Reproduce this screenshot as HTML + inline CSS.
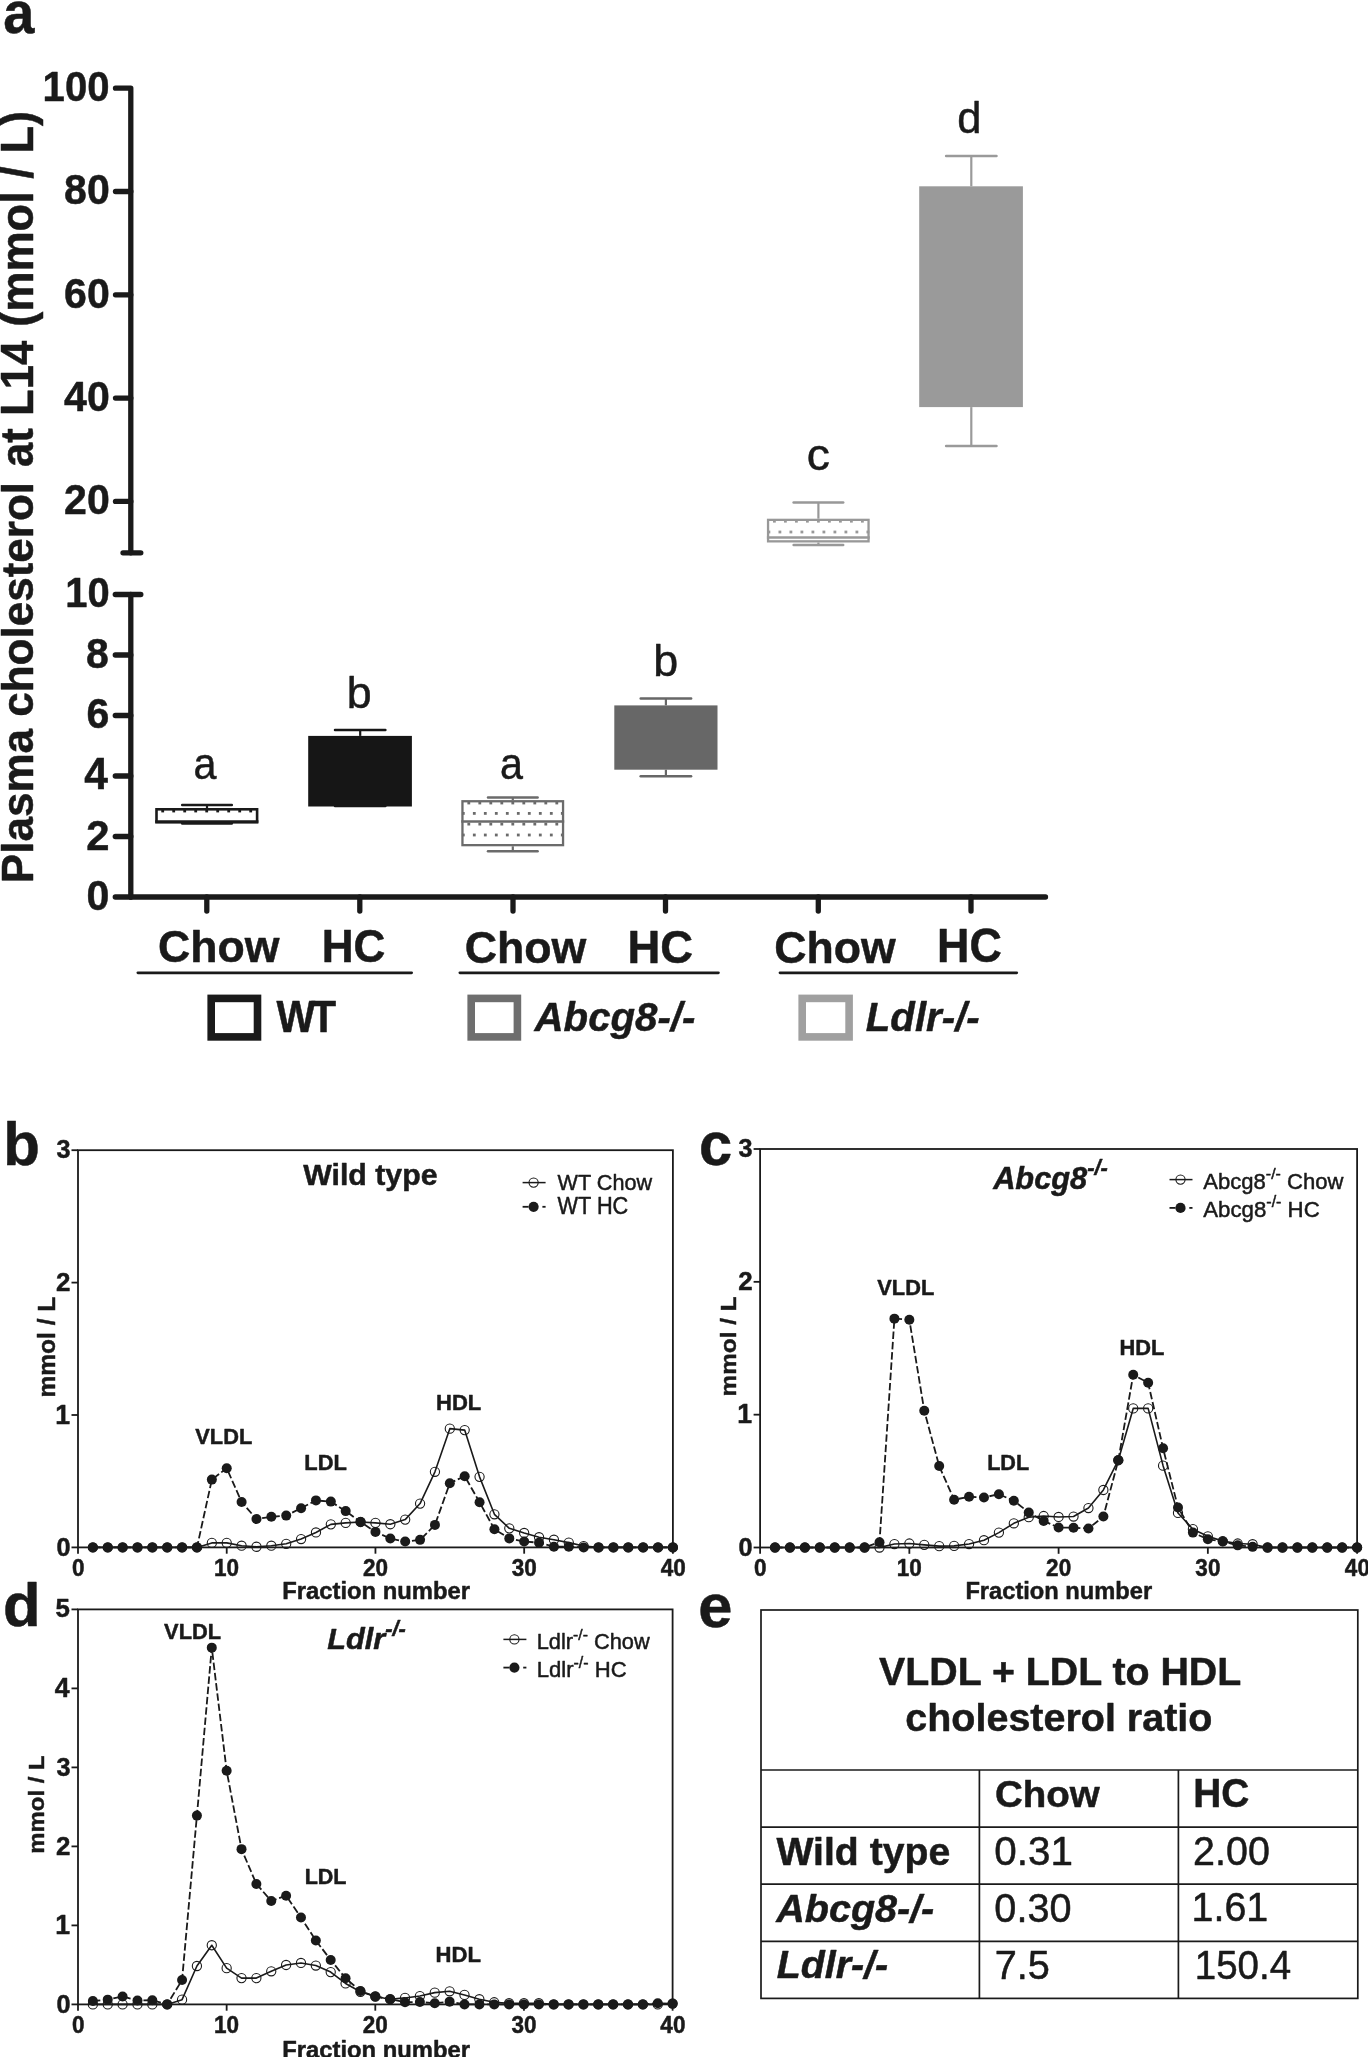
<!DOCTYPE html>
<html><head><meta charset="utf-8"><title>Figure</title><style>
html,body{margin:0;padding:0;background:#fff;}
body{width:1368px;height:2057px;overflow:hidden;}
svg{display:block;will-change:transform;}
text{font-family:"Liberation Sans",sans-serif;fill:#1a1a1a;stroke:#1a1a1a;stroke-width:0.5px;stroke-linejoin:round;}
.B{font-weight:bold;} .I{font-style:italic;} .R{font-weight:normal;}
</style></head><body>
<svg width="1368" height="2057" viewBox="0 0 1368 2057">
<rect width="1368" height="2057" fill="#fff"/>
<g stroke="#1a1a1a" stroke-width="5.3" stroke-linecap="round" stroke-linejoin="round" fill="none">
<path d="M115.5,88.2 H130.8 V552.8"/>
<line x1="115.5" y1="191.5" x2="130.8" y2="191.5"/>
<line x1="115.5" y1="294.8" x2="130.8" y2="294.8"/>
<line x1="115.5" y1="398.1" x2="130.8" y2="398.1"/>
<line x1="115.5" y1="501.4" x2="130.8" y2="501.4"/>
<line x1="123" y1="552.8" x2="140.8" y2="552.8"/>
<line x1="130.8" y1="594.5" x2="130.8" y2="897"/>
<line x1="115.3" y1="594.5" x2="140.8" y2="594.5"/>
<line x1="115.3" y1="655" x2="130.8" y2="655"/>
<line x1="115.3" y1="715.5" x2="130.8" y2="715.5"/>
<line x1="115.3" y1="776" x2="130.8" y2="776"/>
<line x1="115.3" y1="836.5" x2="130.8" y2="836.5"/>
<line x1="115.3" y1="897" x2="130.8" y2="897"/>
<line x1="130.8" y1="897" x2="1045.5" y2="897"/>
<line x1="206.8" y1="897" x2="206.8" y2="911"/>
<line x1="359.8" y1="897" x2="359.8" y2="911"/>
<line x1="513" y1="897" x2="513" y2="911"/>
<line x1="665.5" y1="897" x2="665.5" y2="911"/>
<line x1="818.3" y1="897" x2="818.3" y2="911"/>
<line x1="971" y1="897" x2="971" y2="911"/>
</g>
<line x1="182.2" y1="823.4" x2="231.8" y2="823.4" stroke="#1a1a1a" stroke-width="2.5" stroke-linecap="round"/>
<line x1="207" y1="804.9" x2="207" y2="808" stroke="#1a1a1a" stroke-width="2.2"/>
<line x1="207" y1="823.6" x2="207" y2="823.4" stroke="#1a1a1a" stroke-width="2.2"/>
<line x1="182.2" y1="804.9" x2="231.8" y2="804.9" stroke="#1a1a1a" stroke-width="2.5" stroke-linecap="round"/>
<rect x="161.3" y="809.6" width="2.8" height="2.8" fill="#1a1a1a"/>
<rect x="172.3" y="809.6" width="2.8" height="2.8" fill="#1a1a1a"/>
<rect x="183.3" y="809.6" width="2.8" height="2.8" fill="#1a1a1a"/>
<rect x="194.3" y="809.6" width="2.8" height="2.8" fill="#1a1a1a"/>
<rect x="205.3" y="809.6" width="2.8" height="2.8" fill="#1a1a1a"/>
<rect x="216.3" y="809.6" width="2.8" height="2.8" fill="#1a1a1a"/>
<rect x="227.3" y="809.6" width="2.8" height="2.8" fill="#1a1a1a"/>
<rect x="238.3" y="809.6" width="2.8" height="2.8" fill="#1a1a1a"/>
<rect x="249.3" y="809.6" width="2.8" height="2.8" fill="#1a1a1a"/>
<rect x="156.5" y="809.3" width="100.6" height="13" fill="none" stroke="#1a1a1a" stroke-width="2.6"/>
<line x1="155.2" y1="821.6" x2="258.4" y2="821.6" stroke="#1a1a1a" stroke-width="2.5" stroke-linecap="butt"/>
<line x1="360.2" y1="730" x2="360.2" y2="735.9" stroke="#161616" stroke-width="2.2"/>
<line x1="360.2" y1="806.5" x2="360.2" y2="806" stroke="#161616" stroke-width="2.2"/>
<line x1="335" y1="730" x2="385.4" y2="730" stroke="#161616" stroke-width="2.5" stroke-linecap="round"/>
<line x1="335" y1="806" x2="385.4" y2="806" stroke="#161616" stroke-width="2.5" stroke-linecap="round"/>
<rect x="308.2" y="735.9" width="103.7" height="70.6" fill="#161616"/>
<line x1="488" y1="851.2" x2="537.6" y2="851.2" stroke="#6b6b6b" stroke-width="2.5" stroke-linecap="round"/>
<line x1="512.8" y1="797.4" x2="512.8" y2="800.1" stroke="#6b6b6b" stroke-width="2.2"/>
<line x1="512.8" y1="846.3" x2="512.8" y2="851.2" stroke="#6b6b6b" stroke-width="2.2"/>
<line x1="488" y1="797.4" x2="537.6" y2="797.4" stroke="#6b6b6b" stroke-width="2.5" stroke-linecap="round"/>
<rect x="467.4" y="801.6" width="2.8" height="2.8" fill="#6b6b6b"/>
<rect x="478.4" y="801.6" width="2.8" height="2.8" fill="#6b6b6b"/>
<rect x="489.4" y="801.6" width="2.8" height="2.8" fill="#6b6b6b"/>
<rect x="500.4" y="801.6" width="2.8" height="2.8" fill="#6b6b6b"/>
<rect x="511.4" y="801.6" width="2.8" height="2.8" fill="#6b6b6b"/>
<rect x="522.4" y="801.6" width="2.8" height="2.8" fill="#6b6b6b"/>
<rect x="533.4" y="801.6" width="2.8" height="2.8" fill="#6b6b6b"/>
<rect x="544.4" y="801.6" width="2.8" height="2.8" fill="#6b6b6b"/>
<rect x="555.4" y="801.6" width="2.8" height="2.8" fill="#6b6b6b"/>
<rect x="461.9" y="812" width="2.8" height="2.8" fill="#6b6b6b"/>
<rect x="472.9" y="812" width="2.8" height="2.8" fill="#6b6b6b"/>
<rect x="483.9" y="812" width="2.8" height="2.8" fill="#6b6b6b"/>
<rect x="494.9" y="812" width="2.8" height="2.8" fill="#6b6b6b"/>
<rect x="505.9" y="812" width="2.8" height="2.8" fill="#6b6b6b"/>
<rect x="516.9" y="812" width="2.8" height="2.8" fill="#6b6b6b"/>
<rect x="527.9" y="812" width="2.8" height="2.8" fill="#6b6b6b"/>
<rect x="538.9" y="812" width="2.8" height="2.8" fill="#6b6b6b"/>
<rect x="549.9" y="812" width="2.8" height="2.8" fill="#6b6b6b"/>
<rect x="560.9" y="812" width="2.8" height="2.8" fill="#6b6b6b"/>
<rect x="467.4" y="822.7" width="2.8" height="2.8" fill="#6b6b6b"/>
<rect x="478.4" y="822.7" width="2.8" height="2.8" fill="#6b6b6b"/>
<rect x="489.4" y="822.7" width="2.8" height="2.8" fill="#6b6b6b"/>
<rect x="500.4" y="822.7" width="2.8" height="2.8" fill="#6b6b6b"/>
<rect x="511.4" y="822.7" width="2.8" height="2.8" fill="#6b6b6b"/>
<rect x="522.4" y="822.7" width="2.8" height="2.8" fill="#6b6b6b"/>
<rect x="533.4" y="822.7" width="2.8" height="2.8" fill="#6b6b6b"/>
<rect x="544.4" y="822.7" width="2.8" height="2.8" fill="#6b6b6b"/>
<rect x="555.4" y="822.7" width="2.8" height="2.8" fill="#6b6b6b"/>
<rect x="461.9" y="833.6" width="2.8" height="2.8" fill="#6b6b6b"/>
<rect x="472.9" y="833.6" width="2.8" height="2.8" fill="#6b6b6b"/>
<rect x="483.9" y="833.6" width="2.8" height="2.8" fill="#6b6b6b"/>
<rect x="494.9" y="833.6" width="2.8" height="2.8" fill="#6b6b6b"/>
<rect x="505.9" y="833.6" width="2.8" height="2.8" fill="#6b6b6b"/>
<rect x="516.9" y="833.6" width="2.8" height="2.8" fill="#6b6b6b"/>
<rect x="527.9" y="833.6" width="2.8" height="2.8" fill="#6b6b6b"/>
<rect x="538.9" y="833.6" width="2.8" height="2.8" fill="#6b6b6b"/>
<rect x="549.9" y="833.6" width="2.8" height="2.8" fill="#6b6b6b"/>
<rect x="560.9" y="833.6" width="2.8" height="2.8" fill="#6b6b6b"/>
<rect x="462.45" y="801.25" width="100.6" height="43.9" fill="none" stroke="#6b6b6b" stroke-width="2.3"/>
<line x1="461.3" y1="821.5" x2="564.2" y2="821.5" stroke="#6b6b6b" stroke-width="2.5" stroke-linecap="butt"/>
<line x1="665.9" y1="698.6" x2="665.9" y2="705.4" stroke="#676767" stroke-width="2.2"/>
<line x1="665.9" y1="769.7" x2="665.9" y2="776.3" stroke="#676767" stroke-width="2.2"/>
<line x1="640.7" y1="698.6" x2="691.1" y2="698.6" stroke="#676767" stroke-width="2.5" stroke-linecap="round"/>
<line x1="640.7" y1="776.3" x2="691.1" y2="776.3" stroke="#676767" stroke-width="2.5" stroke-linecap="round"/>
<rect x="614.3" y="705.4" width="103.2" height="64.3" fill="#676767"/>
<line x1="793.6" y1="545" x2="843.2" y2="545" stroke="#989898" stroke-width="2.5" stroke-linecap="round"/>
<line x1="818.4" y1="502.4" x2="818.4" y2="518.7" stroke="#989898" stroke-width="2.2"/>
<line x1="818.4" y1="542.5" x2="818.4" y2="545" stroke="#989898" stroke-width="2.2"/>
<line x1="793.6" y1="502.4" x2="843.2" y2="502.4" stroke="#989898" stroke-width="2.5" stroke-linecap="round"/>
<rect x="773" y="519.8" width="2.8" height="2.8" fill="#989898"/>
<rect x="784" y="519.8" width="2.8" height="2.8" fill="#989898"/>
<rect x="795" y="519.8" width="2.8" height="2.8" fill="#989898"/>
<rect x="806" y="519.8" width="2.8" height="2.8" fill="#989898"/>
<rect x="817" y="519.8" width="2.8" height="2.8" fill="#989898"/>
<rect x="828" y="519.8" width="2.8" height="2.8" fill="#989898"/>
<rect x="839" y="519.8" width="2.8" height="2.8" fill="#989898"/>
<rect x="850" y="519.8" width="2.8" height="2.8" fill="#989898"/>
<rect x="861" y="519.8" width="2.8" height="2.8" fill="#989898"/>
<rect x="767.5" y="530.6" width="2.8" height="2.8" fill="#989898"/>
<rect x="778.5" y="530.6" width="2.8" height="2.8" fill="#989898"/>
<rect x="789.5" y="530.6" width="2.8" height="2.8" fill="#989898"/>
<rect x="800.5" y="530.6" width="2.8" height="2.8" fill="#989898"/>
<rect x="811.5" y="530.6" width="2.8" height="2.8" fill="#989898"/>
<rect x="822.5" y="530.6" width="2.8" height="2.8" fill="#989898"/>
<rect x="833.5" y="530.6" width="2.8" height="2.8" fill="#989898"/>
<rect x="844.5" y="530.6" width="2.8" height="2.8" fill="#989898"/>
<rect x="855.5" y="530.6" width="2.8" height="2.8" fill="#989898"/>
<rect x="866.5" y="530.6" width="2.8" height="2.8" fill="#989898"/>
<rect x="768.05" y="519.85" width="100.5" height="21.5" fill="none" stroke="#989898" stroke-width="2.3"/>
<line x1="766.9" y1="537.4" x2="869.7" y2="537.4" stroke="#989898" stroke-width="2.5" stroke-linecap="butt"/>
<line x1="971.3" y1="156.1" x2="971.3" y2="186.3" stroke="#9a9a9a" stroke-width="2.2"/>
<line x1="971.3" y1="407.1" x2="971.3" y2="445.9" stroke="#9a9a9a" stroke-width="2.2"/>
<line x1="946.1" y1="156.1" x2="996.5" y2="156.1" stroke="#9a9a9a" stroke-width="2.5" stroke-linecap="round"/>
<line x1="946.1" y1="445.9" x2="996.5" y2="445.9" stroke="#9a9a9a" stroke-width="2.5" stroke-linecap="round"/>
<rect x="919.2" y="186.3" width="103.7" height="220.8" fill="#9a9a9a"/>
<line x1="137.9" y1="972.8" x2="411.6" y2="972.8" stroke="#1a1a1a" stroke-width="2.8" stroke-linecap="round"/>
<line x1="459.9" y1="972.8" x2="718.4" y2="972.8" stroke="#1a1a1a" stroke-width="2.8" stroke-linecap="round"/>
<line x1="780" y1="972.8" x2="1016.7" y2="972.8" stroke="#1a1a1a" stroke-width="2.8" stroke-linecap="round"/>
<rect x="211.2" y="998.4" width="46.3" height="38.5" fill="none" stroke="#1a1a1a" stroke-width="7.6"/>
<rect x="471.2" y="998.4" width="46.2" height="38.5" fill="none" stroke="#6e6e6e" stroke-width="7.6"/>
<rect x="802.2" y="998.4" width="46.9" height="38.5" fill="none" stroke="#a0a0a0" stroke-width="7.6"/>
<rect x="78" y="1150.2" width="594.9" height="397.2" fill="none" stroke="#1a1a1a" stroke-width="1.8"/>
<line x1="71.5" y1="1547.4" x2="78" y2="1547.4" stroke="#1a1a1a" stroke-width="1.8"/>
<line x1="71.5" y1="1415" x2="78" y2="1415" stroke="#1a1a1a" stroke-width="1.8"/>
<line x1="71.5" y1="1282.6" x2="78" y2="1282.6" stroke="#1a1a1a" stroke-width="1.8"/>
<line x1="71.5" y1="1150.2" x2="78" y2="1150.2" stroke="#1a1a1a" stroke-width="1.8"/>
<line x1="78" y1="1547.4" x2="78" y2="1553.7" stroke="#1a1a1a" stroke-width="1.8"/>
<line x1="226.72" y1="1547.4" x2="226.72" y2="1553.7" stroke="#1a1a1a" stroke-width="1.8"/>
<line x1="375.45" y1="1547.4" x2="375.45" y2="1553.7" stroke="#1a1a1a" stroke-width="1.8"/>
<line x1="524.17" y1="1547.4" x2="524.17" y2="1553.7" stroke="#1a1a1a" stroke-width="1.8"/>
<line x1="672.9" y1="1547.4" x2="672.9" y2="1553.7" stroke="#1a1a1a" stroke-width="1.8"/>
<path d="M92.87,1547.4 L107.75,1547.4 L122.62,1547.4 L137.49,1547.4 L152.36,1547.4 L167.23,1547.4 L182.11,1547.4 L196.98,1547.4 L211.85,1542.9 L226.72,1542.9 L241.6,1545.68 L256.47,1546.74 L271.34,1545.68 L286.21,1543.83 L301.09,1539.06 L315.96,1532.44 L330.83,1524.36 L345.7,1522.91 L360.58,1521.98 L375.45,1522.91 L390.32,1524.23 L405.19,1519.6 L420.07,1503.58 L434.94,1471.8 L449.81,1428.64 L464.68,1430.09 L479.56,1476.83 L494.43,1514.3 L509.3,1528.33 L524.17,1532.97 L539.05,1537.21 L553.92,1539.72 L568.79,1542.63 L583.66,1546.08 L598.54,1547.4 L613.41,1547.4 L628.28,1547.4 L643.15,1547.4 L658.03,1547.4 L672.9,1547.4" fill="none" stroke="#1a1a1a" stroke-width="1.6" stroke-linejoin="round"/>
<circle cx="92.87" cy="1547.4" r="4.6" fill="none" stroke="#1a1a1a" stroke-width="1.1"/>
<circle cx="107.75" cy="1547.4" r="4.6" fill="none" stroke="#1a1a1a" stroke-width="1.1"/>
<circle cx="122.62" cy="1547.4" r="4.6" fill="none" stroke="#1a1a1a" stroke-width="1.1"/>
<circle cx="137.49" cy="1547.4" r="4.6" fill="none" stroke="#1a1a1a" stroke-width="1.1"/>
<circle cx="152.36" cy="1547.4" r="4.6" fill="none" stroke="#1a1a1a" stroke-width="1.1"/>
<circle cx="167.23" cy="1547.4" r="4.6" fill="none" stroke="#1a1a1a" stroke-width="1.1"/>
<circle cx="182.11" cy="1547.4" r="4.6" fill="none" stroke="#1a1a1a" stroke-width="1.1"/>
<circle cx="196.98" cy="1547.4" r="4.6" fill="none" stroke="#1a1a1a" stroke-width="1.1"/>
<circle cx="211.85" cy="1542.9" r="4.6" fill="none" stroke="#1a1a1a" stroke-width="1.1"/>
<circle cx="226.72" cy="1542.9" r="4.6" fill="none" stroke="#1a1a1a" stroke-width="1.1"/>
<circle cx="241.6" cy="1545.68" r="4.6" fill="none" stroke="#1a1a1a" stroke-width="1.1"/>
<circle cx="256.47" cy="1546.74" r="4.6" fill="none" stroke="#1a1a1a" stroke-width="1.1"/>
<circle cx="271.34" cy="1545.68" r="4.6" fill="none" stroke="#1a1a1a" stroke-width="1.1"/>
<circle cx="286.21" cy="1543.83" r="4.6" fill="none" stroke="#1a1a1a" stroke-width="1.1"/>
<circle cx="301.09" cy="1539.06" r="4.6" fill="none" stroke="#1a1a1a" stroke-width="1.1"/>
<circle cx="315.96" cy="1532.44" r="4.6" fill="none" stroke="#1a1a1a" stroke-width="1.1"/>
<circle cx="330.83" cy="1524.36" r="4.6" fill="none" stroke="#1a1a1a" stroke-width="1.1"/>
<circle cx="345.7" cy="1522.91" r="4.6" fill="none" stroke="#1a1a1a" stroke-width="1.1"/>
<circle cx="360.58" cy="1521.98" r="4.6" fill="none" stroke="#1a1a1a" stroke-width="1.1"/>
<circle cx="375.45" cy="1522.91" r="4.6" fill="none" stroke="#1a1a1a" stroke-width="1.1"/>
<circle cx="390.32" cy="1524.23" r="4.6" fill="none" stroke="#1a1a1a" stroke-width="1.1"/>
<circle cx="405.19" cy="1519.6" r="4.6" fill="none" stroke="#1a1a1a" stroke-width="1.1"/>
<circle cx="420.07" cy="1503.58" r="4.6" fill="none" stroke="#1a1a1a" stroke-width="1.1"/>
<circle cx="434.94" cy="1471.8" r="4.6" fill="none" stroke="#1a1a1a" stroke-width="1.1"/>
<circle cx="449.81" cy="1428.64" r="4.6" fill="none" stroke="#1a1a1a" stroke-width="1.1"/>
<circle cx="464.68" cy="1430.09" r="4.6" fill="none" stroke="#1a1a1a" stroke-width="1.1"/>
<circle cx="479.56" cy="1476.83" r="4.6" fill="none" stroke="#1a1a1a" stroke-width="1.1"/>
<circle cx="494.43" cy="1514.3" r="4.6" fill="none" stroke="#1a1a1a" stroke-width="1.1"/>
<circle cx="509.3" cy="1528.33" r="4.6" fill="none" stroke="#1a1a1a" stroke-width="1.1"/>
<circle cx="524.17" cy="1532.97" r="4.6" fill="none" stroke="#1a1a1a" stroke-width="1.1"/>
<circle cx="539.05" cy="1537.21" r="4.6" fill="none" stroke="#1a1a1a" stroke-width="1.1"/>
<circle cx="553.92" cy="1539.72" r="4.6" fill="none" stroke="#1a1a1a" stroke-width="1.1"/>
<circle cx="568.79" cy="1542.63" r="4.6" fill="none" stroke="#1a1a1a" stroke-width="1.1"/>
<circle cx="583.66" cy="1546.08" r="4.6" fill="none" stroke="#1a1a1a" stroke-width="1.1"/>
<circle cx="598.54" cy="1547.4" r="4.6" fill="none" stroke="#1a1a1a" stroke-width="1.1"/>
<circle cx="613.41" cy="1547.4" r="4.6" fill="none" stroke="#1a1a1a" stroke-width="1.1"/>
<circle cx="628.28" cy="1547.4" r="4.6" fill="none" stroke="#1a1a1a" stroke-width="1.1"/>
<circle cx="643.15" cy="1547.4" r="4.6" fill="none" stroke="#1a1a1a" stroke-width="1.1"/>
<circle cx="658.03" cy="1547.4" r="4.6" fill="none" stroke="#1a1a1a" stroke-width="1.1"/>
<circle cx="672.9" cy="1547.4" r="4.6" fill="none" stroke="#1a1a1a" stroke-width="1.1"/>
<path d="M92.87,1547.4 L107.75,1547.4 L122.62,1547.4 L137.49,1547.4 L152.36,1547.4 L167.23,1547.4 L182.11,1547.4 L196.98,1547.4 L211.85,1479.61 L226.72,1468.22 L241.6,1501.99 L256.47,1519.07 L271.34,1516.82 L286.21,1515.62 L301.09,1508.21 L315.96,1500.4 L330.83,1501.59 L345.7,1511.12 L360.58,1521.98 L375.45,1531.91 L390.32,1538.53 L405.19,1541.57 L420.07,1539.85 L434.94,1524.89 L449.81,1483.19 L464.68,1476.17 L479.56,1502.25 L494.43,1529.26 L509.3,1538.4 L524.17,1541.57 L539.05,1542.63 L553.92,1546.74 L568.79,1546.74 L583.66,1547.4 L598.54,1547.4 L613.41,1547.4 L628.28,1547.4 L643.15,1547.4 L658.03,1547.4 L672.9,1547.4" fill="none" stroke="#1a1a1a" stroke-width="1.8" stroke-dasharray="7.5 2.8"/>
<circle cx="92.87" cy="1547.4" r="5" fill="#1a1a1a"/>
<circle cx="107.75" cy="1547.4" r="5" fill="#1a1a1a"/>
<circle cx="122.62" cy="1547.4" r="5" fill="#1a1a1a"/>
<circle cx="137.49" cy="1547.4" r="5" fill="#1a1a1a"/>
<circle cx="152.36" cy="1547.4" r="5" fill="#1a1a1a"/>
<circle cx="167.23" cy="1547.4" r="5" fill="#1a1a1a"/>
<circle cx="182.11" cy="1547.4" r="5" fill="#1a1a1a"/>
<circle cx="196.98" cy="1547.4" r="5" fill="#1a1a1a"/>
<circle cx="211.85" cy="1479.61" r="5" fill="#1a1a1a"/>
<circle cx="226.72" cy="1468.22" r="5" fill="#1a1a1a"/>
<circle cx="241.6" cy="1501.99" r="5" fill="#1a1a1a"/>
<circle cx="256.47" cy="1519.07" r="5" fill="#1a1a1a"/>
<circle cx="271.34" cy="1516.82" r="5" fill="#1a1a1a"/>
<circle cx="286.21" cy="1515.62" r="5" fill="#1a1a1a"/>
<circle cx="301.09" cy="1508.21" r="5" fill="#1a1a1a"/>
<circle cx="315.96" cy="1500.4" r="5" fill="#1a1a1a"/>
<circle cx="330.83" cy="1501.59" r="5" fill="#1a1a1a"/>
<circle cx="345.7" cy="1511.12" r="5" fill="#1a1a1a"/>
<circle cx="360.58" cy="1521.98" r="5" fill="#1a1a1a"/>
<circle cx="375.45" cy="1531.91" r="5" fill="#1a1a1a"/>
<circle cx="390.32" cy="1538.53" r="5" fill="#1a1a1a"/>
<circle cx="405.19" cy="1541.57" r="5" fill="#1a1a1a"/>
<circle cx="420.07" cy="1539.85" r="5" fill="#1a1a1a"/>
<circle cx="434.94" cy="1524.89" r="5" fill="#1a1a1a"/>
<circle cx="449.81" cy="1483.19" r="5" fill="#1a1a1a"/>
<circle cx="464.68" cy="1476.17" r="5" fill="#1a1a1a"/>
<circle cx="479.56" cy="1502.25" r="5" fill="#1a1a1a"/>
<circle cx="494.43" cy="1529.26" r="5" fill="#1a1a1a"/>
<circle cx="509.3" cy="1538.4" r="5" fill="#1a1a1a"/>
<circle cx="524.17" cy="1541.57" r="5" fill="#1a1a1a"/>
<circle cx="539.05" cy="1542.63" r="5" fill="#1a1a1a"/>
<circle cx="553.92" cy="1546.74" r="5" fill="#1a1a1a"/>
<circle cx="568.79" cy="1546.74" r="5" fill="#1a1a1a"/>
<circle cx="583.66" cy="1547.4" r="5" fill="#1a1a1a"/>
<circle cx="598.54" cy="1547.4" r="5" fill="#1a1a1a"/>
<circle cx="613.41" cy="1547.4" r="5" fill="#1a1a1a"/>
<circle cx="628.28" cy="1547.4" r="5" fill="#1a1a1a"/>
<circle cx="643.15" cy="1547.4" r="5" fill="#1a1a1a"/>
<circle cx="658.03" cy="1547.4" r="5" fill="#1a1a1a"/>
<circle cx="672.9" cy="1547.4" r="5" fill="#1a1a1a"/>
<rect x="760.1" y="1149" width="597" height="398.5" fill="none" stroke="#1a1a1a" stroke-width="1.8"/>
<line x1="753.6" y1="1547.5" x2="760.1" y2="1547.5" stroke="#1a1a1a" stroke-width="1.8"/>
<line x1="753.6" y1="1414.67" x2="760.1" y2="1414.67" stroke="#1a1a1a" stroke-width="1.8"/>
<line x1="753.6" y1="1281.83" x2="760.1" y2="1281.83" stroke="#1a1a1a" stroke-width="1.8"/>
<line x1="753.6" y1="1149" x2="760.1" y2="1149" stroke="#1a1a1a" stroke-width="1.8"/>
<line x1="760.1" y1="1547.5" x2="760.1" y2="1553.8" stroke="#1a1a1a" stroke-width="1.8"/>
<line x1="909.35" y1="1547.5" x2="909.35" y2="1553.8" stroke="#1a1a1a" stroke-width="1.8"/>
<line x1="1058.6" y1="1547.5" x2="1058.6" y2="1553.8" stroke="#1a1a1a" stroke-width="1.8"/>
<line x1="1207.85" y1="1547.5" x2="1207.85" y2="1553.8" stroke="#1a1a1a" stroke-width="1.8"/>
<line x1="1357.1" y1="1547.5" x2="1357.1" y2="1553.8" stroke="#1a1a1a" stroke-width="1.8"/>
<path d="M775.02,1547.5 L789.95,1547.5 L804.88,1547.5 L819.8,1547.5 L834.73,1547.5 L849.65,1547.5 L864.58,1547.5 L879.5,1547.5 L894.42,1544.05 L909.35,1543.52 L924.27,1544.84 L939.2,1546.17 L954.12,1545.91 L969.05,1544.05 L983.97,1540.19 L998.9,1532.62 L1013.83,1523.32 L1028.75,1517.21 L1043.67,1516.02 L1058.6,1516.95 L1073.53,1516.55 L1088.45,1508.05 L1103.38,1489.98 L1118.3,1460.23 L1133.22,1408.42 L1148.15,1408.42 L1163.07,1465.67 L1178,1512.96 L1192.92,1529.17 L1207.85,1536.34 L1222.77,1541.12 L1237.7,1543.52 L1252.62,1544.18 L1267.55,1547.5 L1282.47,1547.5 L1297.4,1547.5 L1312.32,1547.5 L1327.25,1547.5 L1342.17,1547.5 L1357.1,1547.5" fill="none" stroke="#1a1a1a" stroke-width="1.6" stroke-linejoin="round"/>
<circle cx="775.02" cy="1547.5" r="4.6" fill="none" stroke="#1a1a1a" stroke-width="1.1"/>
<circle cx="789.95" cy="1547.5" r="4.6" fill="none" stroke="#1a1a1a" stroke-width="1.1"/>
<circle cx="804.88" cy="1547.5" r="4.6" fill="none" stroke="#1a1a1a" stroke-width="1.1"/>
<circle cx="819.8" cy="1547.5" r="4.6" fill="none" stroke="#1a1a1a" stroke-width="1.1"/>
<circle cx="834.73" cy="1547.5" r="4.6" fill="none" stroke="#1a1a1a" stroke-width="1.1"/>
<circle cx="849.65" cy="1547.5" r="4.6" fill="none" stroke="#1a1a1a" stroke-width="1.1"/>
<circle cx="864.58" cy="1547.5" r="4.6" fill="none" stroke="#1a1a1a" stroke-width="1.1"/>
<circle cx="879.5" cy="1547.5" r="4.6" fill="none" stroke="#1a1a1a" stroke-width="1.1"/>
<circle cx="894.42" cy="1544.05" r="4.6" fill="none" stroke="#1a1a1a" stroke-width="1.1"/>
<circle cx="909.35" cy="1543.52" r="4.6" fill="none" stroke="#1a1a1a" stroke-width="1.1"/>
<circle cx="924.27" cy="1544.84" r="4.6" fill="none" stroke="#1a1a1a" stroke-width="1.1"/>
<circle cx="939.2" cy="1546.17" r="4.6" fill="none" stroke="#1a1a1a" stroke-width="1.1"/>
<circle cx="954.12" cy="1545.91" r="4.6" fill="none" stroke="#1a1a1a" stroke-width="1.1"/>
<circle cx="969.05" cy="1544.05" r="4.6" fill="none" stroke="#1a1a1a" stroke-width="1.1"/>
<circle cx="983.97" cy="1540.19" r="4.6" fill="none" stroke="#1a1a1a" stroke-width="1.1"/>
<circle cx="998.9" cy="1532.62" r="4.6" fill="none" stroke="#1a1a1a" stroke-width="1.1"/>
<circle cx="1013.83" cy="1523.32" r="4.6" fill="none" stroke="#1a1a1a" stroke-width="1.1"/>
<circle cx="1028.75" cy="1517.21" r="4.6" fill="none" stroke="#1a1a1a" stroke-width="1.1"/>
<circle cx="1043.67" cy="1516.02" r="4.6" fill="none" stroke="#1a1a1a" stroke-width="1.1"/>
<circle cx="1058.6" cy="1516.95" r="4.6" fill="none" stroke="#1a1a1a" stroke-width="1.1"/>
<circle cx="1073.53" cy="1516.55" r="4.6" fill="none" stroke="#1a1a1a" stroke-width="1.1"/>
<circle cx="1088.45" cy="1508.05" r="4.6" fill="none" stroke="#1a1a1a" stroke-width="1.1"/>
<circle cx="1103.38" cy="1489.98" r="4.6" fill="none" stroke="#1a1a1a" stroke-width="1.1"/>
<circle cx="1118.3" cy="1460.23" r="4.6" fill="none" stroke="#1a1a1a" stroke-width="1.1"/>
<circle cx="1133.22" cy="1408.42" r="4.6" fill="none" stroke="#1a1a1a" stroke-width="1.1"/>
<circle cx="1148.15" cy="1408.42" r="4.6" fill="none" stroke="#1a1a1a" stroke-width="1.1"/>
<circle cx="1163.07" cy="1465.67" r="4.6" fill="none" stroke="#1a1a1a" stroke-width="1.1"/>
<circle cx="1178" cy="1512.96" r="4.6" fill="none" stroke="#1a1a1a" stroke-width="1.1"/>
<circle cx="1192.92" cy="1529.17" r="4.6" fill="none" stroke="#1a1a1a" stroke-width="1.1"/>
<circle cx="1207.85" cy="1536.34" r="4.6" fill="none" stroke="#1a1a1a" stroke-width="1.1"/>
<circle cx="1222.77" cy="1541.12" r="4.6" fill="none" stroke="#1a1a1a" stroke-width="1.1"/>
<circle cx="1237.7" cy="1543.52" r="4.6" fill="none" stroke="#1a1a1a" stroke-width="1.1"/>
<circle cx="1252.62" cy="1544.18" r="4.6" fill="none" stroke="#1a1a1a" stroke-width="1.1"/>
<circle cx="1267.55" cy="1547.5" r="4.6" fill="none" stroke="#1a1a1a" stroke-width="1.1"/>
<circle cx="1282.47" cy="1547.5" r="4.6" fill="none" stroke="#1a1a1a" stroke-width="1.1"/>
<circle cx="1297.4" cy="1547.5" r="4.6" fill="none" stroke="#1a1a1a" stroke-width="1.1"/>
<circle cx="1312.32" cy="1547.5" r="4.6" fill="none" stroke="#1a1a1a" stroke-width="1.1"/>
<circle cx="1327.25" cy="1547.5" r="4.6" fill="none" stroke="#1a1a1a" stroke-width="1.1"/>
<circle cx="1342.17" cy="1547.5" r="4.6" fill="none" stroke="#1a1a1a" stroke-width="1.1"/>
<circle cx="1357.1" cy="1547.5" r="4.6" fill="none" stroke="#1a1a1a" stroke-width="1.1"/>
<path d="M775.02,1547.5 L789.95,1547.5 L804.88,1547.5 L819.8,1547.5 L834.73,1547.5 L849.65,1547.5 L864.58,1547.5 L879.5,1542.19 L894.42,1318.63 L909.35,1319.69 L924.27,1410.68 L939.2,1466.07 L954.12,1499.68 L969.05,1496.76 L983.97,1497.42 L998.9,1494.23 L1013.83,1500.74 L1028.75,1512.43 L1043.67,1520.93 L1058.6,1527.58 L1073.53,1527.71 L1088.45,1528.5 L1103.38,1516.55 L1118.3,1460.23 L1133.22,1374.82 L1148.15,1382.79 L1163.07,1448.27 L1178,1507.52 L1192.92,1532.62 L1207.85,1539.26 L1222.77,1541.52 L1237.7,1545.37 L1252.62,1546.84 L1267.55,1547.5 L1282.47,1547.5 L1297.4,1547.5 L1312.32,1547.5 L1327.25,1547.5 L1342.17,1547.5 L1357.1,1547.5" fill="none" stroke="#1a1a1a" stroke-width="1.8" stroke-dasharray="7.5 2.8"/>
<circle cx="775.02" cy="1547.5" r="5" fill="#1a1a1a"/>
<circle cx="789.95" cy="1547.5" r="5" fill="#1a1a1a"/>
<circle cx="804.88" cy="1547.5" r="5" fill="#1a1a1a"/>
<circle cx="819.8" cy="1547.5" r="5" fill="#1a1a1a"/>
<circle cx="834.73" cy="1547.5" r="5" fill="#1a1a1a"/>
<circle cx="849.65" cy="1547.5" r="5" fill="#1a1a1a"/>
<circle cx="864.58" cy="1547.5" r="5" fill="#1a1a1a"/>
<circle cx="879.5" cy="1542.19" r="5" fill="#1a1a1a"/>
<circle cx="894.42" cy="1318.63" r="5" fill="#1a1a1a"/>
<circle cx="909.35" cy="1319.69" r="5" fill="#1a1a1a"/>
<circle cx="924.27" cy="1410.68" r="5" fill="#1a1a1a"/>
<circle cx="939.2" cy="1466.07" r="5" fill="#1a1a1a"/>
<circle cx="954.12" cy="1499.68" r="5" fill="#1a1a1a"/>
<circle cx="969.05" cy="1496.76" r="5" fill="#1a1a1a"/>
<circle cx="983.97" cy="1497.42" r="5" fill="#1a1a1a"/>
<circle cx="998.9" cy="1494.23" r="5" fill="#1a1a1a"/>
<circle cx="1013.83" cy="1500.74" r="5" fill="#1a1a1a"/>
<circle cx="1028.75" cy="1512.43" r="5" fill="#1a1a1a"/>
<circle cx="1043.67" cy="1520.93" r="5" fill="#1a1a1a"/>
<circle cx="1058.6" cy="1527.58" r="5" fill="#1a1a1a"/>
<circle cx="1073.53" cy="1527.71" r="5" fill="#1a1a1a"/>
<circle cx="1088.45" cy="1528.5" r="5" fill="#1a1a1a"/>
<circle cx="1103.38" cy="1516.55" r="5" fill="#1a1a1a"/>
<circle cx="1118.3" cy="1460.23" r="5" fill="#1a1a1a"/>
<circle cx="1133.22" cy="1374.82" r="5" fill="#1a1a1a"/>
<circle cx="1148.15" cy="1382.79" r="5" fill="#1a1a1a"/>
<circle cx="1163.07" cy="1448.27" r="5" fill="#1a1a1a"/>
<circle cx="1178" cy="1507.52" r="5" fill="#1a1a1a"/>
<circle cx="1192.92" cy="1532.62" r="5" fill="#1a1a1a"/>
<circle cx="1207.85" cy="1539.26" r="5" fill="#1a1a1a"/>
<circle cx="1222.77" cy="1541.52" r="5" fill="#1a1a1a"/>
<circle cx="1237.7" cy="1545.37" r="5" fill="#1a1a1a"/>
<circle cx="1252.62" cy="1546.84" r="5" fill="#1a1a1a"/>
<circle cx="1267.55" cy="1547.5" r="5" fill="#1a1a1a"/>
<circle cx="1282.47" cy="1547.5" r="5" fill="#1a1a1a"/>
<circle cx="1297.4" cy="1547.5" r="5" fill="#1a1a1a"/>
<circle cx="1312.32" cy="1547.5" r="5" fill="#1a1a1a"/>
<circle cx="1327.25" cy="1547.5" r="5" fill="#1a1a1a"/>
<circle cx="1342.17" cy="1547.5" r="5" fill="#1a1a1a"/>
<circle cx="1357.1" cy="1547.5" r="5" fill="#1a1a1a"/>
<rect x="78" y="1609.4" width="594.6" height="395" fill="none" stroke="#1a1a1a" stroke-width="1.8"/>
<line x1="71.5" y1="2004.4" x2="78" y2="2004.4" stroke="#1a1a1a" stroke-width="1.8"/>
<line x1="71.5" y1="1925.4" x2="78" y2="1925.4" stroke="#1a1a1a" stroke-width="1.8"/>
<line x1="71.5" y1="1846.4" x2="78" y2="1846.4" stroke="#1a1a1a" stroke-width="1.8"/>
<line x1="71.5" y1="1767.4" x2="78" y2="1767.4" stroke="#1a1a1a" stroke-width="1.8"/>
<line x1="71.5" y1="1688.4" x2="78" y2="1688.4" stroke="#1a1a1a" stroke-width="1.8"/>
<line x1="71.5" y1="1609.4" x2="78" y2="1609.4" stroke="#1a1a1a" stroke-width="1.8"/>
<line x1="78" y1="2004.4" x2="78" y2="2010.7" stroke="#1a1a1a" stroke-width="1.8"/>
<line x1="226.65" y1="2004.4" x2="226.65" y2="2010.7" stroke="#1a1a1a" stroke-width="1.8"/>
<line x1="375.3" y1="2004.4" x2="375.3" y2="2010.7" stroke="#1a1a1a" stroke-width="1.8"/>
<line x1="523.95" y1="2004.4" x2="523.95" y2="2010.7" stroke="#1a1a1a" stroke-width="1.8"/>
<line x1="672.6" y1="2004.4" x2="672.6" y2="2010.7" stroke="#1a1a1a" stroke-width="1.8"/>
<path d="M92.86,2004.4 L107.73,2004.4 L122.59,2004.4 L137.46,2004.4 L152.32,2004.4 L167.19,2004.4 L182.06,1999.66 L196.92,1966.01 L211.78,1945.23 L226.65,1968.14 L241.52,1978.09 L256.38,1978.09 L271.25,1971.3 L286.11,1964.98 L300.98,1962.93 L315.84,1965.53 L330.71,1972.09 L345.57,1983.47 L360.44,1991.76 L375.3,1996.5 L390.17,1999.19 L405.03,1997.92 L419.89,1996.03 L434.76,1992.63 L449.62,1991.29 L464.49,1994.92 L479.36,1999.19 L494.22,2002.27 L509.08,2003.22 L523.95,2003.22 L538.82,2003.22 L553.68,2004.4 L568.55,2004.4 L583.41,2004.4 L598.27,2004.4 L613.14,2004.4 L628,2004.4 L642.87,2004.4 L657.74,2004.4 L672.6,2003.61" fill="none" stroke="#1a1a1a" stroke-width="1.6" stroke-linejoin="round"/>
<circle cx="92.86" cy="2004.4" r="4.6" fill="none" stroke="#1a1a1a" stroke-width="1.1"/>
<circle cx="107.73" cy="2004.4" r="4.6" fill="none" stroke="#1a1a1a" stroke-width="1.1"/>
<circle cx="122.59" cy="2004.4" r="4.6" fill="none" stroke="#1a1a1a" stroke-width="1.1"/>
<circle cx="137.46" cy="2004.4" r="4.6" fill="none" stroke="#1a1a1a" stroke-width="1.1"/>
<circle cx="152.32" cy="2004.4" r="4.6" fill="none" stroke="#1a1a1a" stroke-width="1.1"/>
<circle cx="167.19" cy="2004.4" r="4.6" fill="none" stroke="#1a1a1a" stroke-width="1.1"/>
<circle cx="182.06" cy="1999.66" r="4.6" fill="none" stroke="#1a1a1a" stroke-width="1.1"/>
<circle cx="196.92" cy="1966.01" r="4.6" fill="none" stroke="#1a1a1a" stroke-width="1.1"/>
<circle cx="211.78" cy="1945.23" r="4.6" fill="none" stroke="#1a1a1a" stroke-width="1.1"/>
<circle cx="226.65" cy="1968.14" r="4.6" fill="none" stroke="#1a1a1a" stroke-width="1.1"/>
<circle cx="241.52" cy="1978.09" r="4.6" fill="none" stroke="#1a1a1a" stroke-width="1.1"/>
<circle cx="256.38" cy="1978.09" r="4.6" fill="none" stroke="#1a1a1a" stroke-width="1.1"/>
<circle cx="271.25" cy="1971.3" r="4.6" fill="none" stroke="#1a1a1a" stroke-width="1.1"/>
<circle cx="286.11" cy="1964.98" r="4.6" fill="none" stroke="#1a1a1a" stroke-width="1.1"/>
<circle cx="300.98" cy="1962.93" r="4.6" fill="none" stroke="#1a1a1a" stroke-width="1.1"/>
<circle cx="315.84" cy="1965.53" r="4.6" fill="none" stroke="#1a1a1a" stroke-width="1.1"/>
<circle cx="330.71" cy="1972.09" r="4.6" fill="none" stroke="#1a1a1a" stroke-width="1.1"/>
<circle cx="345.57" cy="1983.47" r="4.6" fill="none" stroke="#1a1a1a" stroke-width="1.1"/>
<circle cx="360.44" cy="1991.76" r="4.6" fill="none" stroke="#1a1a1a" stroke-width="1.1"/>
<circle cx="375.3" cy="1996.5" r="4.6" fill="none" stroke="#1a1a1a" stroke-width="1.1"/>
<circle cx="390.17" cy="1999.19" r="4.6" fill="none" stroke="#1a1a1a" stroke-width="1.1"/>
<circle cx="405.03" cy="1997.92" r="4.6" fill="none" stroke="#1a1a1a" stroke-width="1.1"/>
<circle cx="419.89" cy="1996.03" r="4.6" fill="none" stroke="#1a1a1a" stroke-width="1.1"/>
<circle cx="434.76" cy="1992.63" r="4.6" fill="none" stroke="#1a1a1a" stroke-width="1.1"/>
<circle cx="449.62" cy="1991.29" r="4.6" fill="none" stroke="#1a1a1a" stroke-width="1.1"/>
<circle cx="464.49" cy="1994.92" r="4.6" fill="none" stroke="#1a1a1a" stroke-width="1.1"/>
<circle cx="479.36" cy="1999.19" r="4.6" fill="none" stroke="#1a1a1a" stroke-width="1.1"/>
<circle cx="494.22" cy="2002.27" r="4.6" fill="none" stroke="#1a1a1a" stroke-width="1.1"/>
<circle cx="509.08" cy="2003.22" r="4.6" fill="none" stroke="#1a1a1a" stroke-width="1.1"/>
<circle cx="523.95" cy="2003.22" r="4.6" fill="none" stroke="#1a1a1a" stroke-width="1.1"/>
<circle cx="538.82" cy="2003.22" r="4.6" fill="none" stroke="#1a1a1a" stroke-width="1.1"/>
<circle cx="553.68" cy="2004.4" r="4.6" fill="none" stroke="#1a1a1a" stroke-width="1.1"/>
<circle cx="568.55" cy="2004.4" r="4.6" fill="none" stroke="#1a1a1a" stroke-width="1.1"/>
<circle cx="583.41" cy="2004.4" r="4.6" fill="none" stroke="#1a1a1a" stroke-width="1.1"/>
<circle cx="598.27" cy="2004.4" r="4.6" fill="none" stroke="#1a1a1a" stroke-width="1.1"/>
<circle cx="613.14" cy="2004.4" r="4.6" fill="none" stroke="#1a1a1a" stroke-width="1.1"/>
<circle cx="628" cy="2004.4" r="4.6" fill="none" stroke="#1a1a1a" stroke-width="1.1"/>
<circle cx="642.87" cy="2004.4" r="4.6" fill="none" stroke="#1a1a1a" stroke-width="1.1"/>
<circle cx="657.74" cy="2004.4" r="4.6" fill="none" stroke="#1a1a1a" stroke-width="1.1"/>
<circle cx="672.6" cy="2003.61" r="4.6" fill="none" stroke="#1a1a1a" stroke-width="1.1"/>
<path d="M92.86,2001 L107.73,1999.66 L122.59,1996.5 L137.46,2000.53 L152.32,2000.21 L167.19,2004.4 L182.06,1979.99 L196.92,1815.59 L211.78,1647.64 L226.65,1770.8 L241.52,1849.16 L256.38,1883.93 L271.25,1900.99 L286.11,1895.7 L300.98,1917.58 L315.84,1940.49 L330.71,1960 L345.57,1978.33 L360.44,1990.97 L375.3,1996.5 L390.17,1999.19 L405.03,2002.27 L419.89,2002.03 L434.76,2003.22 L449.62,2001.63 L464.49,2004.4 L479.36,2004.4 L494.22,2004.4 L509.08,2004.4 L523.95,2004.4 L538.82,2004.4 L553.68,2004.4 L568.55,2004.4 L583.41,2004.4 L598.27,2004.4 L613.14,2004.4 L628,2004.4 L642.87,2004.4 L657.74,2003.22 L672.6,2003.61" fill="none" stroke="#1a1a1a" stroke-width="1.8" stroke-dasharray="7.5 2.8"/>
<circle cx="92.86" cy="2001" r="5" fill="#1a1a1a"/>
<circle cx="107.73" cy="1999.66" r="5" fill="#1a1a1a"/>
<circle cx="122.59" cy="1996.5" r="5" fill="#1a1a1a"/>
<circle cx="137.46" cy="2000.53" r="5" fill="#1a1a1a"/>
<circle cx="152.32" cy="2000.21" r="5" fill="#1a1a1a"/>
<circle cx="167.19" cy="2004.4" r="5" fill="#1a1a1a"/>
<circle cx="182.06" cy="1979.99" r="5" fill="#1a1a1a"/>
<circle cx="196.92" cy="1815.59" r="5" fill="#1a1a1a"/>
<circle cx="211.78" cy="1647.64" r="5" fill="#1a1a1a"/>
<circle cx="226.65" cy="1770.8" r="5" fill="#1a1a1a"/>
<circle cx="241.52" cy="1849.16" r="5" fill="#1a1a1a"/>
<circle cx="256.38" cy="1883.93" r="5" fill="#1a1a1a"/>
<circle cx="271.25" cy="1900.99" r="5" fill="#1a1a1a"/>
<circle cx="286.11" cy="1895.7" r="5" fill="#1a1a1a"/>
<circle cx="300.98" cy="1917.58" r="5" fill="#1a1a1a"/>
<circle cx="315.84" cy="1940.49" r="5" fill="#1a1a1a"/>
<circle cx="330.71" cy="1960" r="5" fill="#1a1a1a"/>
<circle cx="345.57" cy="1978.33" r="5" fill="#1a1a1a"/>
<circle cx="360.44" cy="1990.97" r="5" fill="#1a1a1a"/>
<circle cx="375.3" cy="1996.5" r="5" fill="#1a1a1a"/>
<circle cx="390.17" cy="1999.19" r="5" fill="#1a1a1a"/>
<circle cx="405.03" cy="2002.27" r="5" fill="#1a1a1a"/>
<circle cx="419.89" cy="2002.03" r="5" fill="#1a1a1a"/>
<circle cx="434.76" cy="2003.22" r="5" fill="#1a1a1a"/>
<circle cx="449.62" cy="2001.63" r="5" fill="#1a1a1a"/>
<circle cx="464.49" cy="2004.4" r="5" fill="#1a1a1a"/>
<circle cx="479.36" cy="2004.4" r="5" fill="#1a1a1a"/>
<circle cx="494.22" cy="2004.4" r="5" fill="#1a1a1a"/>
<circle cx="509.08" cy="2004.4" r="5" fill="#1a1a1a"/>
<circle cx="523.95" cy="2004.4" r="5" fill="#1a1a1a"/>
<circle cx="538.82" cy="2004.4" r="5" fill="#1a1a1a"/>
<circle cx="553.68" cy="2004.4" r="5" fill="#1a1a1a"/>
<circle cx="568.55" cy="2004.4" r="5" fill="#1a1a1a"/>
<circle cx="583.41" cy="2004.4" r="5" fill="#1a1a1a"/>
<circle cx="598.27" cy="2004.4" r="5" fill="#1a1a1a"/>
<circle cx="613.14" cy="2004.4" r="5" fill="#1a1a1a"/>
<circle cx="628" cy="2004.4" r="5" fill="#1a1a1a"/>
<circle cx="642.87" cy="2004.4" r="5" fill="#1a1a1a"/>
<circle cx="657.74" cy="2003.22" r="5" fill="#1a1a1a"/>
<circle cx="672.6" cy="2003.61" r="5" fill="#1a1a1a"/>
<line x1="522.6" y1="1182.6" x2="545.6" y2="1182.6" stroke="#1a1a1a" stroke-width="1.5"/>
<circle cx="533.6" cy="1182.6" r="4.6" fill="none" stroke="#1a1a1a" stroke-width="1.1"/>
<line x1="522.6" y1="1206.8" x2="528.6" y2="1206.8" stroke="#1a1a1a" stroke-width="1.8"/>
<line x1="542.4" y1="1206.8" x2="545.6" y2="1206.8" stroke="#1a1a1a" stroke-width="1.8"/>
<circle cx="533.6" cy="1206.8" r="5.1" fill="#1a1a1a"/>
<line x1="1169.5" y1="1179.6" x2="1192.5" y2="1179.6" stroke="#1a1a1a" stroke-width="1.5"/>
<circle cx="1180.5" cy="1179.6" r="4.6" fill="none" stroke="#1a1a1a" stroke-width="1.1"/>
<line x1="1169.5" y1="1207.9" x2="1175.5" y2="1207.9" stroke="#1a1a1a" stroke-width="1.8"/>
<line x1="1189.3" y1="1207.9" x2="1192.5" y2="1207.9" stroke="#1a1a1a" stroke-width="1.8"/>
<circle cx="1180.5" cy="1207.9" r="5.1" fill="#1a1a1a"/>
<line x1="503.4" y1="1639.4" x2="526.4" y2="1639.4" stroke="#1a1a1a" stroke-width="1.5"/>
<circle cx="514.4" cy="1639.4" r="4.6" fill="none" stroke="#1a1a1a" stroke-width="1.1"/>
<line x1="503.4" y1="1667.6" x2="509.4" y2="1667.6" stroke="#1a1a1a" stroke-width="1.8"/>
<line x1="523.2" y1="1667.6" x2="526.4" y2="1667.6" stroke="#1a1a1a" stroke-width="1.8"/>
<circle cx="514.4" cy="1667.6" r="5.1" fill="#1a1a1a"/>
<g stroke="#1a1a1a" stroke-width="1.7" fill="none">
<rect x="761.0" y="1610.0" width="596.8" height="388.4"/>
<line x1="761.0" y1="1770" x2="1357.8" y2="1770"/>
<line x1="761.0" y1="1827.2" x2="1357.8" y2="1827.2"/>
<line x1="761.0" y1="1884.2" x2="1357.8" y2="1884.2"/>
<line x1="761.0" y1="1941.4" x2="1357.8" y2="1941.4"/>
<line x1="979.4" y1="1770" x2="979.4" y2="1998.4"/>
<line x1="1178.4" y1="1770" x2="1178.4" y2="1998.4"/>
</g>
<text transform="translate(3.30,32.60) scale(0.9323,1.0025)" class="B" font-size="60">a</text>
<text transform="translate(32.80,883.17) rotate(-90) scale(0.9895,0.9909)" class="B" font-size="44.5">Plasma cholesterol</text>
<text transform="translate(32.78,467.08) rotate(-90) scale(0.9827,1.0381)" class="B" font-size="44.5">at L14</text>
<text transform="translate(33.27,326.83) rotate(-90) scale(1.0158,1.0238)" class="B" font-size="44.5">(mmol / L)</text>
<text transform="translate(42.61,101.09) scale(0.9545,1.0133)" class="B" font-size="42">100</text>
<text transform="translate(64.10,204.39) scale(0.9779,1.0133)" class="B" font-size="42">80</text>
<text transform="translate(64.10,307.69) scale(0.9779,1.0133)" class="B" font-size="42">60</text>
<text transform="translate(64.10,410.99) scale(0.9779,1.0133)" class="B" font-size="42">40</text>
<text transform="translate(64.10,514.29) scale(0.9779,1.0133)" class="B" font-size="42">20</text>
<text transform="translate(65.22,606.70) scale(0.9506,1.0100)" class="B" font-size="42">10</text>
<text transform="translate(86.10,667.89) scale(0.9779,1.0133)" class="B" font-size="42">8</text>
<text transform="translate(86.59,728.39) scale(0.9779,1.0133)" class="B" font-size="42">6</text>
<text transform="translate(84.33,789.40) scale(1.0116,1.0483)" class="B" font-size="42">4</text>
<text transform="translate(86.22,849.90) scale(0.9944,1.0305)" class="B" font-size="42">2</text>
<text transform="translate(86.59,909.89) scale(0.9779,1.0133)" class="B" font-size="42">0</text>
<text transform="translate(193.53,779.40) scale(0.9167,0.9920)" class="R" font-size="45">a</text>
<text transform="translate(346.71,708.40) scale(0.9952,1.0030)" class="R" font-size="45">b</text>
<text transform="translate(500.02,779.30) scale(0.9167,0.9920)" class="R" font-size="45">a</text>
<text transform="translate(653.31,675.70) scale(0.9952,1.0030)" class="R" font-size="45">b</text>
<text transform="translate(806.75,469.50) scale(1.0300,0.9920)" class="R" font-size="45">c</text>
<text transform="translate(957.35,133.10) scale(0.9667,1.0030)" class="R" font-size="45">d</text>
<text transform="translate(158.01,962.41) scale(0.9918,0.9821)" class="B" font-size="45">Chow</text>
<text transform="translate(321.76,962.39) scale(0.9803,1.0281)" class="B" font-size="45">HC</text>
<text transform="translate(464.71,962.70) scale(0.9934,1.0000)" class="B" font-size="45">Chow</text>
<text transform="translate(627.57,962.68) scale(1.0098,1.0469)" class="B" font-size="45">HC</text>
<text transform="translate(774.21,962.50) scale(0.9918,1.0060)" class="B" font-size="45">Chow</text>
<text transform="translate(937.01,962.47) scale(0.9967,1.0531)" class="B" font-size="45">HC</text>
<text transform="translate(276.60,1032.00) scale(0.9785,1.0483)" class="B" font-size="42">W<tspan dx="-4.5">T</tspan></text>
<text transform="translate(534.56,1031.41) scale(0.9577,0.9577)" class="B I" font-size="42">Abcg8-/-</text>
<text transform="translate(865.82,1031.03) scale(0.9574,0.9651)" class="B I" font-size="42">Ldlr-/-</text>
<text transform="translate(56.41,1555.51) scale(0.9697,0.9895)" class="B" font-size="26">0</text>
<text transform="translate(55.17,1423.60) scale(1.0236,1.0444)" class="B" font-size="26">1</text>
<text transform="translate(56.06,1291.20) scale(0.9959,1.0162)" class="B" font-size="26">2</text>
<text transform="translate(56.41,1158.31) scale(0.9697,0.9895)" class="B" font-size="26">3</text>
<text transform="translate(71.88,1575.68) scale(0.9788,1.0303)" class="B" font-size="23">0</text>
<text transform="translate(214.00,1575.68) scale(0.9788,1.0303)" class="B" font-size="23">10</text>
<text transform="translate(362.97,1575.68) scale(0.9788,1.0303)" class="B" font-size="23">20</text>
<text transform="translate(511.70,1575.68) scale(0.9788,1.0303)" class="B" font-size="23">30</text>
<text transform="translate(660.67,1575.68) scale(0.9788,1.0303)" class="B" font-size="23">40</text>
<text transform="translate(738.51,1555.61) scale(0.9697,0.9895)" class="B" font-size="26">0</text>
<text transform="translate(737.27,1423.27) scale(1.0236,1.0444)" class="B" font-size="26">1</text>
<text transform="translate(738.16,1290.43) scale(0.9959,1.0162)" class="B" font-size="26">2</text>
<text transform="translate(738.51,1157.11) scale(0.9697,0.9895)" class="B" font-size="26">3</text>
<text transform="translate(753.98,1575.78) scale(0.9788,1.0303)" class="B" font-size="23">0</text>
<text transform="translate(896.63,1575.78) scale(0.9788,1.0303)" class="B" font-size="23">10</text>
<text transform="translate(1046.12,1575.78) scale(0.9788,1.0303)" class="B" font-size="23">20</text>
<text transform="translate(1195.37,1575.78) scale(0.9788,1.0303)" class="B" font-size="23">30</text>
<text transform="translate(1344.87,1575.78) scale(0.9788,1.0303)" class="B" font-size="23">40</text>
<text transform="translate(56.41,2012.51) scale(0.9697,0.9895)" class="B" font-size="26">0</text>
<text transform="translate(55.17,1934.00) scale(1.0236,1.0444)" class="B" font-size="26">1</text>
<text transform="translate(56.06,1855.00) scale(0.9959,1.0162)" class="B" font-size="26">2</text>
<text transform="translate(56.41,1775.51) scale(0.9697,0.9895)" class="B" font-size="26">3</text>
<text transform="translate(54.66,1697.00) scale(1.0236,1.0444)" class="B" font-size="26">4</text>
<text transform="translate(55.56,1617.49) scale(0.9959,1.0162)" class="B" font-size="26">5</text>
<text transform="translate(71.88,2032.68) scale(0.9788,1.0303)" class="B" font-size="23">0</text>
<text transform="translate(213.93,2032.68) scale(0.9788,1.0303)" class="B" font-size="23">10</text>
<text transform="translate(362.82,2032.68) scale(0.9788,1.0303)" class="B" font-size="23">20</text>
<text transform="translate(511.47,2032.68) scale(0.9788,1.0303)" class="B" font-size="23">30</text>
<text transform="translate(660.37,2032.68) scale(0.9788,1.0303)" class="B" font-size="23">40</text>
<text transform="translate(3.30,1164.89) scale(1.0000,1.0090)" class="B" font-size="60">b</text>
<text transform="translate(699.11,1164.89) scale(0.9933,1.0060)" class="B" font-size="60">c</text>
<text transform="translate(3.05,1626.38) scale(1.0258,1.0180)" class="B" font-size="60">d</text>
<text transform="translate(698.35,1626.58) scale(1.0237,1.0209)" class="B" font-size="60">e</text>
<text transform="translate(55.42,1397.50) rotate(-90) scale(1.0010,0.9568)" class="B" font-size="24.5">mmol / L</text>
<text transform="translate(736.44,1396.49) rotate(-90) scale(0.9939,0.9189)" class="B" font-size="24.5">mmol / L</text>
<text transform="translate(43.64,1853.66) rotate(-90) scale(0.9756,0.9243)" class="B" font-size="24.5">mmol / L</text>
<text transform="translate(282.21,1599.31) scale(0.9920,0.9833)" class="B" font-size="24">Fraction number</text>
<text transform="translate(965.42,1599.31) scale(0.9862,0.9833)" class="B" font-size="24">Fraction number</text>
<text transform="translate(282.21,2057.51) scale(0.9920,0.9833)" class="B" font-size="24">Fraction number</text>
<text transform="translate(303.20,1184.70) scale(1.0098,1.0000)" class="B" font-size="30">Wild type</text>
<text transform="translate(993.13,1188.90) scale(1.0267,1.0314)" class="B I" font-size="30">Abcg8<tspan font-size="0.71em" dy="-0.62em">-/-</tspan></text>
<text transform="translate(327.19,1648.89) scale(1.0237,1.0103)" class="B I" font-size="30">Ldlr<tspan font-size="0.71em" dy="-0.62em">-/-</tspan></text>
<text transform="translate(557.50,1190.33) scale(0.9413,0.9429)" class="R" font-size="23">WT Chow</text>
<text transform="translate(557.50,1214.40) scale(0.9450,1.0000)" class="R" font-size="23">WT HC</text>
<text transform="translate(1203.30,1188.60) scale(0.9811,0.9407)" class="R" font-size="22.5">Abcg8<tspan font-size="0.72em" dy="-0.61em">-/-</tspan><tspan dy="0.44em"> Chow</tspan></text>
<text transform="translate(1203.30,1216.97) scale(0.9881,0.9667)" class="R" font-size="22.5">Abcg8<tspan font-size="0.72em" dy="-0.61em">-/-</tspan><tspan dy="0.44em"> HC</tspan></text>
<text transform="translate(536.75,1649.12) scale(0.9688,0.9556)" class="R" font-size="22.5">Ldlr<tspan font-size="0.72em" dy="-0.61em">-/-</tspan><tspan dy="0.44em"> Chow</tspan></text>
<text transform="translate(536.73,1677.32) scale(0.9821,0.9689)" class="R" font-size="22.5">Ldlr<tspan font-size="0.72em" dy="-0.61em">-/-</tspan><tspan dy="0.44em"> HC</tspan></text>
<text transform="translate(195.30,1443.70) scale(0.9692,1.0061)" class="B" font-size="22.5">VLDL</text>
<text transform="translate(304.34,1469.81) scale(0.9738,0.9758)" class="B" font-size="22.5">LDL</text>
<text transform="translate(436.03,1410.41) scale(0.9798,0.9879)" class="B" font-size="22.5">HDL</text>
<text transform="translate(877.30,1294.61) scale(0.9692,0.9879)" class="B" font-size="22.5">VLDL</text>
<text transform="translate(987.16,1469.52) scale(0.9595,0.9697)" class="B" font-size="22.5">LDL</text>
<text transform="translate(1119.54,1355.41) scale(0.9708,0.9879)" class="B" font-size="22.5">HDL</text>
<text transform="translate(164.10,1638.51) scale(0.9692,0.9758)" class="B" font-size="22.5">VLDL</text>
<text transform="translate(304.66,1883.51) scale(0.9571,0.9758)" class="B" font-size="22.5">LDL</text>
<text transform="translate(435.53,1962.19) scale(0.9820,1.0182)" class="B" font-size="22.5">HDL</text>
<text transform="translate(879.00,1685.39) scale(1.0215,1.0259)" class="B" font-size="38.5">VLDL + LDL to HDL</text>
<text transform="translate(905.26,1731.30) scale(1.0256,0.9930)" class="B" font-size="38.5">cholesterol ratio</text>
<text transform="translate(994.90,1806.82) scale(1.0010,0.9614)" class="B" font-size="38.5">Chow</text>
<text transform="translate(1193.18,1807.47) scale(1.0077,1.0509)" class="B" font-size="38.5">HC</text>
<text transform="translate(776.40,1864.67) scale(1.0183,0.9917)" class="B" font-size="38.5">Wild type</text>
<text transform="translate(776.33,1921.52) scale(1.0253,1.0222)" class="B I" font-size="38.5">Abcg8-/-</text>
<text transform="translate(776.69,1978.10) scale(1.0223,1.0000)" class="B I" font-size="38.5">Ldlr-/-</text>
<text transform="translate(994.33,1864.86) scale(1.0495,1.0764)" class="R" font-size="38.5">0.31</text>
<text transform="translate(994.35,1921.57) scale(1.0306,1.0582)" class="R" font-size="38.5">0.30</text>
<text transform="translate(994.75,1979.17) scale(1.0317,1.0667)" class="R" font-size="38.5">7.5</text>
<text transform="translate(1193.06,1864.67) scale(1.0250,1.0509)" class="R" font-size="38.5">2.00</text>
<text transform="translate(1191.51,1921.37) scale(1.0246,1.0509)" class="R" font-size="38.5">1.61</text>
<text transform="translate(1194.80,1978.57) scale(1.0000,1.0509)" class="R" font-size="38.5">150.4</text>
</svg></body></html>
